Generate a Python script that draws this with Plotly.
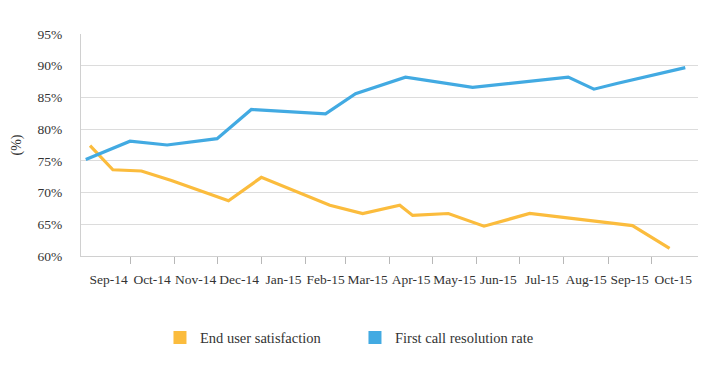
import plotly.graph_objects as go
import pandas as pd

# ---- data ----
fcr_dates = ["2014-08-31", "2014-10-01", "2014-10-27", "2014-12-01", "2014-12-25",
             "2015-02-15", "2015-03-08", "2015-04-12", "2015-05-29", "2015-08-04",
             "2015-08-22", "2015-09-07", "2015-10-25"]
fcr_values = [75.2, 78.1, 77.5, 78.5, 83.1, 82.4, 85.6, 88.2, 86.6, 88.2, 86.3, 87.2, 89.7]

eus_dates = ["2014-09-03", "2014-09-19", "2014-10-09", "2014-10-30", "2014-12-09",
             "2015-01-01", "2015-02-18", "2015-03-13", "2015-04-08", "2015-04-17",
             "2015-05-12", "2015-06-06", "2015-07-08", "2015-09-18", "2015-10-14"]
eus_values = [77.4, 73.6, 73.4, 71.9, 68.7, 72.4, 68.0, 66.7, 68.0, 66.4,
              66.7, 64.7, 66.7, 64.8, 61.2]

month_labels = ["Sep-14", "Oct-14", "Nov-14", "Dec-14", "Jan-15", "Feb-15", "Mar-15",
                "Apr-15", "May-15", "Jun-15", "Jul-15", "Aug-15", "Sep-15", "Oct-15"]
series_names = ["End user satisfaction", "First call resolution rate"]
y_ticks = [60, 65, 70, 75, 80, 85, 90, 95]

YELLOW = "#FBBC3D"
BLUE = "#42AAE2"
TEXT = "#333333"
FONT = "Times New Roman, Liberation Serif, Tinos, DejaVu Serif, serif"

starts = pd.date_range("2014-09-01", "2015-11-01", freq="MS")
mids = starts[:-1] + (starts[1:] - starts[:-1]) / 2
boundaries = [d for d in starts if pd.Timestamp("2014-10-01") <= d <= pd.Timestamp("2015-10-01")]

fig = go.Figure()
fig.add_trace(go.Scatter(x=eus_dates, y=eus_values, mode="lines",
                         line=dict(color=YELLOW, width=3.2), showlegend=False))
fig.add_trace(go.Scatter(x=fcr_dates, y=fcr_values, mode="lines",
                         line=dict(color=BLUE, width=3.2), showlegend=False))
# legend entries (square swatches)
fig.add_trace(go.Scatter(x=[None], y=[None], mode="markers", name=series_names[0],
                         marker=dict(symbol="square", size=13, color=YELLOW)))
fig.add_trace(go.Scatter(x=[None], y=[None], mode="markers", name=series_names[1],
                         marker=dict(symbol="square", size=13, color=BLUE)))

fig.update_layout(
    width=726, height=371,
    margin=dict(l=81, r=28, t=34, b=115, autoexpand=False),
    paper_bgcolor="white", plot_bgcolor="white",
    font=dict(family=FONT, size=14, color=TEXT),
    showlegend=True,
    legend=dict(orientation="h", x=0.128, xanchor="left", y=-0.367, yanchor="middle",
                font=dict(family=FONT, size=14.5, color=TEXT),
                entrywidth=150, entrywidthmode="pixels"),
    xaxis=dict(
        type="date", automargin=False,
        range=["2014-08-27 16:00", "2015-11-02 22:00"],
        tickmode="array", tickvals=list(mids), ticktext=month_labels,
        tickangle=0,
        ticks="", ticklabelstandoff=11,
        tickfont=dict(family=FONT, size=13.5, color=TEXT),
        showgrid=False, zeroline=False,
        showline=True, linecolor="#d0d0d0", linewidth=1,
        minor=dict(tickmode="array", tickvals=boundaries, ticks="outside",
                   ticklen=7, tickcolor="#b8b8b8", tickwidth=1, showgrid=False),
    ),
    yaxis=dict(
        automargin=False,
        range=[60, 95], tickmode="array", tickvals=y_ticks,
        ticktext=[f"{v}%" for v in y_ticks],
        ticks="", ticklabelstandoff=15,
        tickfont=dict(family=FONT, size=13.5, color=TEXT),
        showgrid=True, gridcolor="#dcdcdc", gridwidth=1,
        zeroline=False, showline=True, linecolor="#d0d0d0", linewidth=1,
        title=dict(text="(%)", font=dict(family=FONT, size=14, color=TEXT), standoff=12),
    ),
)

fig.write_html("out.html", config={"displayModeBar": False},
               post_script="document.body.style.margin='0';")
